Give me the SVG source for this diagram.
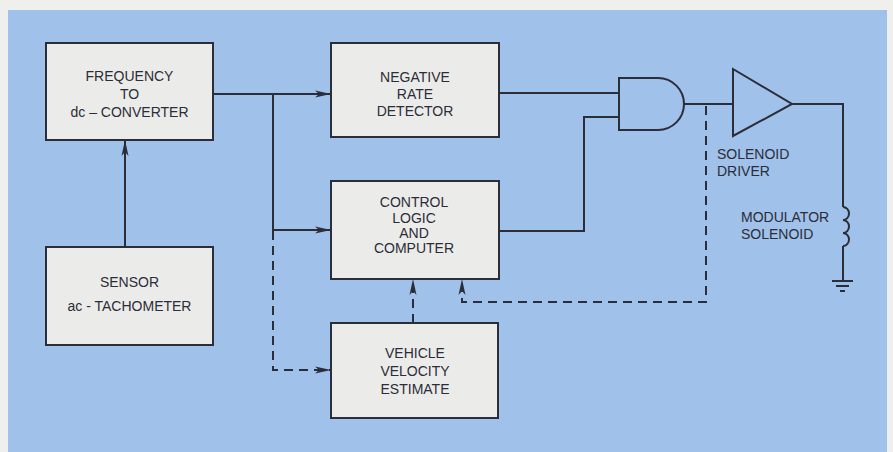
<svg xmlns="http://www.w3.org/2000/svg" width="893" height="452" viewBox="0 0 893 452">
<defs>
<style>
.box{fill:#ebebe9;stroke:#2b2d38;stroke-width:2}
.ln{fill:none;stroke:#2b2d38;stroke-width:2}
.ds{fill:none;stroke:#2b2d38;stroke-width:2;stroke-dasharray:9 6}
.t{font-family:"Liberation Sans",Arial,sans-serif;font-size:14px;fill:#2b2d38;text-anchor:middle}
.tl{font-family:"Liberation Sans",Arial,sans-serif;font-size:14px;fill:#2b2d38}
</style>
<marker id="ah" markerWidth="16" markerHeight="8" refX="15" refY="4" orient="auto" markerUnits="userSpaceOnUse">
<path d="M0,0.5 L16,4 L0,7.5 L4,4 z" fill="#2b2d38"/>
</marker>
</defs>
<rect x="0" y="0" width="893" height="452" fill="#efefed"/>
<rect x="8" y="10" width="879" height="442" fill="#a0c1e9"/>

<g id="freq">
<rect class="box" x="46" y="43" width="167" height="97"/>
<text class="t" x="129.5" y="81">FREQUENCY</text>
<text class="t" x="129.5" y="99">TO</text>
<text class="t" x="129.5" y="117">dc – CONVERTER</text>
</g>
<g id="sensor">
<rect class="box" x="46" y="247" width="167" height="98"/>
<text class="t" x="129.5" y="287">SENSOR</text>
<text class="t" x="129.5" y="311">ac - TACHOMETER</text>
</g>
<g id="neg">
<rect class="box" x="331" y="43" width="168" height="94"/>
<text class="t" x="415" y="82">NEGATIVE</text>
<text class="t" x="415" y="99">RATE</text>
<text class="t" x="415" y="116">DETECTOR</text>
</g>
<g id="control">
<rect class="box" x="331" y="181" width="168" height="98"/>
<text class="t" x="414" y="207">CONTROL</text>
<text class="t" x="414" y="223">LOGIC</text>
<text class="t" x="414" y="238">AND</text>
<text class="t" x="414" y="253">COMPUTER</text>
</g>
<g id="vehicle">
<rect class="box" x="331" y="323" width="167" height="95"/>
<text class="t" x="415" y="358">VEHICLE</text>
<text class="t" x="415" y="376">VELOCITY</text>
<text class="t" x="415" y="394">ESTIMATE</text>
</g>
<g id="and">
<path class="ln" d="M619,78 L658,78 A26,26 0 0 1 658,130 L619,130 Z"/>
</g>
<g id="driver">
<path class="ln" d="M733,69 L792,104 L733,136 Z"/>
<text class="tl" x="717" y="159">SOLENOID</text>
<text class="tl" x="717" y="176">DRIVER</text>
</g>
<g id="solenoid">
<path class="ln" d="M843,207 a6,6.5 0 1 1 0,13 a6,6.5 0 1 1 0,13 a6,6.5 0 1 1 0,13"/>
<text class="tl" x="741" y="222">MODULATOR</text>
<text class="tl" x="741" y="239">SOLENOID</text>
</g>
<g id="ground">
<path class="ln" d="M832,281 H853 M836,286 H849 M840,291 H845"/>
</g>

<g id="connectors">
<path class="ln" d="M125,247 V141" marker-end="url(#ah)"/>
<path class="ln" d="M213,94 H330" marker-end="url(#ah)"/>
<path class="ln" d="M273,94 V230 H330" marker-end="url(#ah)"/>
<path class="ds" d="M273,231 V370 H330" marker-end="url(#ah)"/>
<path class="ds" d="M413,323 V280" marker-end="url(#ah)"/>
<path class="ln" d="M499,93 H619"/>
<path class="ln" d="M499,231 H584 V117 H619"/>
<path class="ln" d="M684,104 H733"/>
<path class="ds" d="M706,106 V302 H462 V280" marker-end="url(#ah)"/>
<path class="ln" d="M792,104 H843 V207"/>
<path class="ln" d="M843,246 V281"/>
</g>
</svg>
